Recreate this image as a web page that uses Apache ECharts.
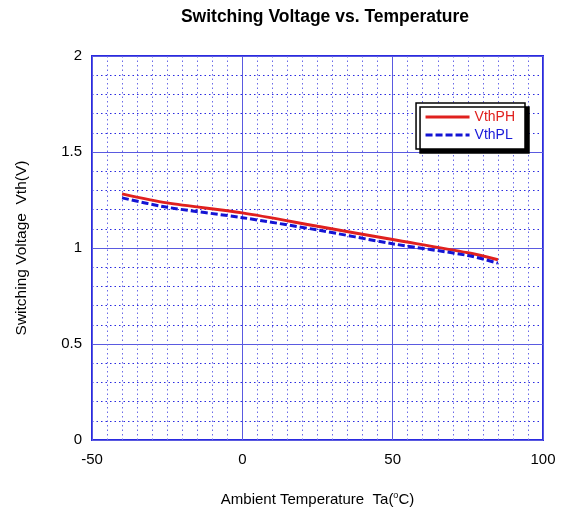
<!DOCTYPE html>
<html><head><meta charset="utf-8">
<script src="https://cdn.jsdelivr.net/npm/echarts@6/dist/echarts.min.js"></script>
<style>html,body{margin:0;padding:0;background:#fff}#c{width:571px;height:514px}</style>
</head><body><div id="c"></div>
<script>
var temps = [-40, -25, 0, 25, 50, 75, 85];
var vthPH = [1.282, 1.235, 1.183, 1.113, 1.044, 0.975, 0.939];
var vthPL = [1.261, 1.212, 1.158, 1.094, 1.022, 0.961, 0.921];
var seriesNames = ['VthPH', 'VthPL'];
var titleText = 'Switching Voltage vs. Temperature';
var xName = 'Ambient Temperature  Ta({sup|o}C)';
var yName = 'Switching Voltage  Vth(V)';

function pairs(xs, ys){ return xs.map(function(x,i){ return [x, ys[i]]; }); }

var F = 'Liberation Sans, Arial, sans-serif';
var chart = echarts.init(document.getElementById('c'));
chart.setOption({
  animation: false,
  title: { text: titleText, left: 320, top: 3, textAlign: 'center',
    textStyle: { fontFamily: F, fontSize: 17.5, fontWeight: 'bold', color: '#000' } },
  grid: { left: 92, right: 28, top: 56, bottom: 74, show: true,
    borderColor: '#2a2ae0', borderWidth: 2, containLabel: false },
  legend: {
    right: 46, top: 103, orient: 'vertical', itemWidth: 44, itemHeight: 12, itemGap: 4,
    padding: [7, 10, 7, 8],
    backgroundColor: '#fff', borderColor: '#000', borderWidth: 1.5, borderRadius: 0,
    shadowColor: '#000', shadowBlur: 0, shadowOffsetX: 4, shadowOffsetY: 4,
    itemStyle: { opacity: 0, borderWidth: 0 },
    lineStyle: { width: 3 },
    textStyle: { fontFamily: F, fontSize: 14 },
    data: [
      { name: seriesNames[0], textStyle: { color: '#e0201e' } },
      { name: seriesNames[1], textStyle: { color: '#1818d8' } }
    ]
  },
  xAxis: {
    type: 'value', min: -50, max: 100, interval: 50,
    name: xName, nameLocation: 'middle', nameGap: 51,
    nameTextStyle: { fontFamily: F, fontSize: 15, color: '#000',
      rich: { sup: { fontSize: 9, verticalAlign: 'top', padding: [0,0,9,0], fontFamily: F, color: '#000' } } },
    axisLine: { show: false }, axisTick: { show: false },
    axisLabel: { fontFamily: F, fontSize: 15, color: '#000', margin: 12 },
    splitLine: { show: true, lineStyle: { color: '#5a5ae0', width: 1 } },
    minorTick: { show: false, splitNumber: 10 },
    minorSplitLine: { show: true, lineStyle: { color: '#6a6ae8', width: 1, type: [1.5, 3] } }
  },
  yAxis: {
    type: 'value', min: 0, max: 2, interval: 0.5,
    name: yName, nameLocation: 'middle', nameGap: 62,
    nameTextStyle: { fontFamily: F, fontSize: 15.5, color: '#000' },
    axisLine: { show: false }, axisTick: { show: false },
    axisLabel: { fontFamily: F, fontSize: 15, color: '#000', margin: 10 },
    splitLine: { show: true, lineStyle: { color: '#5a5ae0', width: 1 } },
    minorTick: { show: false, splitNumber: 5 },
    minorSplitLine: { show: true, lineStyle: { color: '#2a2ae0', width: 1, type: [1.5, 3] } }
  },
  series: [
    { name: seriesNames[0], type: 'line', data: pairs(temps, vthPH), symbol: 'none', smooth: 0.3,
      lineStyle: { color: '#e0201e', width: 3 }, itemStyle: { color: '#e0201e' }, z: 3 },
    { name: seriesNames[1], type: 'line', data: pairs(temps, vthPL), symbol: 'none', smooth: 0.3,
      lineStyle: { color: '#1414d4', width: 3, type: [7, 3] }, itemStyle: { color: '#1414d4' }, z: 4 }
  ]
});
</script></body></html>
